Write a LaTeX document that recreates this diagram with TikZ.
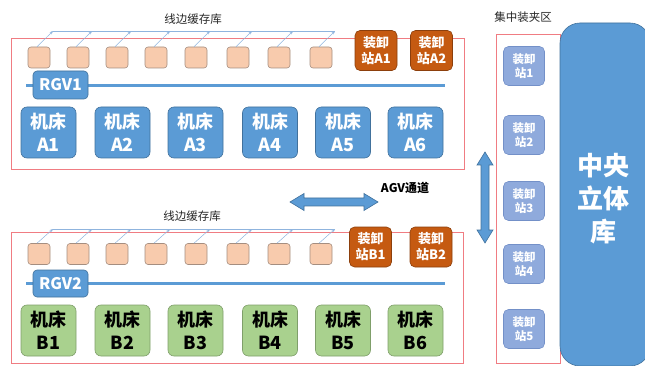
\documentclass[tikz,border=0pt]{standalone}
\usepackage{fontspec}
\setmainfont{Noto Sans CJK SC}
\usetikzlibrary{arrows.meta}
\definecolor{bluef}{HTML}{5B9BD5}
\definecolor{blued}{HTML}{41719C}
\definecolor{orgf}{HTML}{C55A11}
\definecolor{orgd}{HTML}{8C3F0C}
\definecolor{peach}{HTML}{F8CBAD}
\definecolor{peachd}{HTML}{A58E80}
\definecolor{grnf}{HTML}{A9D18E}
\definecolor{grnd}{HTML}{7F9F6A}
\definecolor{stf}{HTML}{8FAADC}
\definecolor{std}{HTML}{7390C8}
\definecolor{redb}{HTML}{F07C82}
\definecolor{thinb}{HTML}{8FB4DE}
\definecolor{txt}{HTML}{262626}
\tikzset{
  frame/.style={draw=redb, line width=0.9pt},
  buf/.style={draw=peachd, fill=peach, rounded corners=3pt, minimum width=22pt, minimum height=21pt, inner sep=0pt, line width=0.6pt},
  mach/.style={fill=bluef, draw=blued, line width=0.6pt, rounded corners=6pt, minimum width=55pt, minimum height=51pt, text=white, font=\fontsize{18}{23}\selectfont\bfseries, align=center, inner sep=0pt},
  machB/.style={mach, fill=grnf, draw=grnd, text=black},
  ld/.style={fill=orgf, draw=orgd, line width=0.6pt, rounded corners=5pt, minimum width=42pt, minimum height=40pt, text=white, font=\fontsize{13}{16}\selectfont\bfseries, align=center, inner sep=0pt},
  st/.style={fill=stf, draw=std, line width=0.6pt, rounded corners=5pt, minimum width=41pt, minimum height=39pt, text=white, font=\fontsize{11.5}{14.5}\selectfont\bfseries, align=center, inner sep=0pt},
  rgv/.style={fill=bluef, draw=blued, line width=0.6pt, rounded corners=4pt, minimum width=55pt, minimum height=28pt, text=white, font=\fontsize{16}{16}\selectfont\bfseries, inner sep=0pt},
  rail/.style={draw=bluef, line width=3pt},
  feed/.style={draw=thinb, line width=0.5pt},
  feedarrow/.style={feed, -{Stealth[length=3.5pt,width=3pt]}},
  lbl/.style={text=txt, font=\fontsize{11.5}{13}\selectfont, inner sep=0pt},
  bigarrow/.style={fill=bluef, draw=blued, line width=0.6pt},
}
\begin{document}
\begin{tikzpicture}[x=1pt,y=-1pt]
\path[use as bounding box] (0,0) rectangle (645,366);
\clip (0,0) rectangle (645,366);

% frames
\draw[frame] (11,38) rectangle (464,169);
\draw[frame] (11,232) rectangle (463,363);
\draw[frame] (496,34) rectangle (560,363);

% labels
\node[lbl] (lblA) at (193,19) {线边缓存库};
\node[lbl] (lblB) at (192,216) {线边缓存库};
\node[lbl] (lblC) at (523,17) {集中装夹区};
\node[lbl, font=\fontsize{12}{14}\selectfont\bfseries, text=black] (lblAGV) at (405,188) {AGV通道};

% buffers and feed arrows
\foreach \i/\x in {1/39,2/78,3/117,4/156,5/196,6/238,7/279,8/321}{
  \node[buf] (ba\i) at (\x,57.5) {};
  \coordinate (ta\i) at (\x+14,31);
  \node[buf] (bb\i) at (\x,254) {};
  \coordinate (tb\i) at (\x+14,229);
}
\draw[feed] (ta1) -- (ta8);
\draw[feed] (tb1) -- (tb8);
\foreach \i in {1,...,8}{
  \draw[feedarrow] ([xshift=-2pt]ba\i.north) -- (ta\i);
  \draw[feedarrow] ([xshift=-2pt]bb\i.north) -- (tb\i);
}

% rails
\coordinate (rla) at (26,86);
\coordinate (rra) at (445,86);
\coordinate (rlb) at (26,283);
\coordinate (rrb) at (445,283);
\draw[rail] (rla) -- (rra);
\draw[rail] (rlb) -- (rrb);
\node[rgv] (rgv1) at (60.5,85) {RGV1};
\node[rgv, minimum height=27pt] (rgv2) at (60.5,283.5) {RGV2};

% loading stations
\node[ld] (sa1) at (376,50.5) {装卸\\站A1};
\node[ld] (sa2) at (431.5,50.5) {装卸\\站A2};
\node[ld] (sb1) at (370.5,247) {装卸\\站B1};
\node[ld] (sb2) at (431,247) {装卸\\站B2};

% machines
\foreach \i/\x in {1/48.5,2/122.5,3/195.5,4/270,5/343,6/415.5}{
  \node[mach] (ma\i) at (\x,132.5) {机床\\A\i};
  \node[machB] (mb\i) at (\x,330.5) {机床\\B\i};
}

% central stations
\foreach \i/\y in {1/66,2/135,3/201,4/264,5/329}{
  \node[st] (s\i) at (524,\y) {装卸\\站\i};
}

% central warehouse
\node[fill=bluef, draw=blued, line width=0.6pt, rounded corners=20pt, minimum width=90pt, minimum height=343pt, inner sep=0pt] (wh) at (605,194.5) {};
\node[text=white, font=\fontsize{26}{33}\selectfont\bfseries, align=center, inner sep=0pt] (whtxt) at (603,199) {中央\\立体\\库};

% AGV arrows
\draw[bigarrow] (290,202) -- (304,193.5) -- (304,198) -- (364,198) -- (364,193.5) -- (378,202) -- (364,210.5) -- (364,206) -- (304,206) -- (304,210.5) -- cycle;
\draw[bigarrow] (485,152) -- (493,165) -- (489,165) -- (489,230) -- (493,230) -- (485,243) -- (477,230) -- (481,230) -- (481,165) -- (477,165) -- cycle;
\end{tikzpicture}
\end{document}
